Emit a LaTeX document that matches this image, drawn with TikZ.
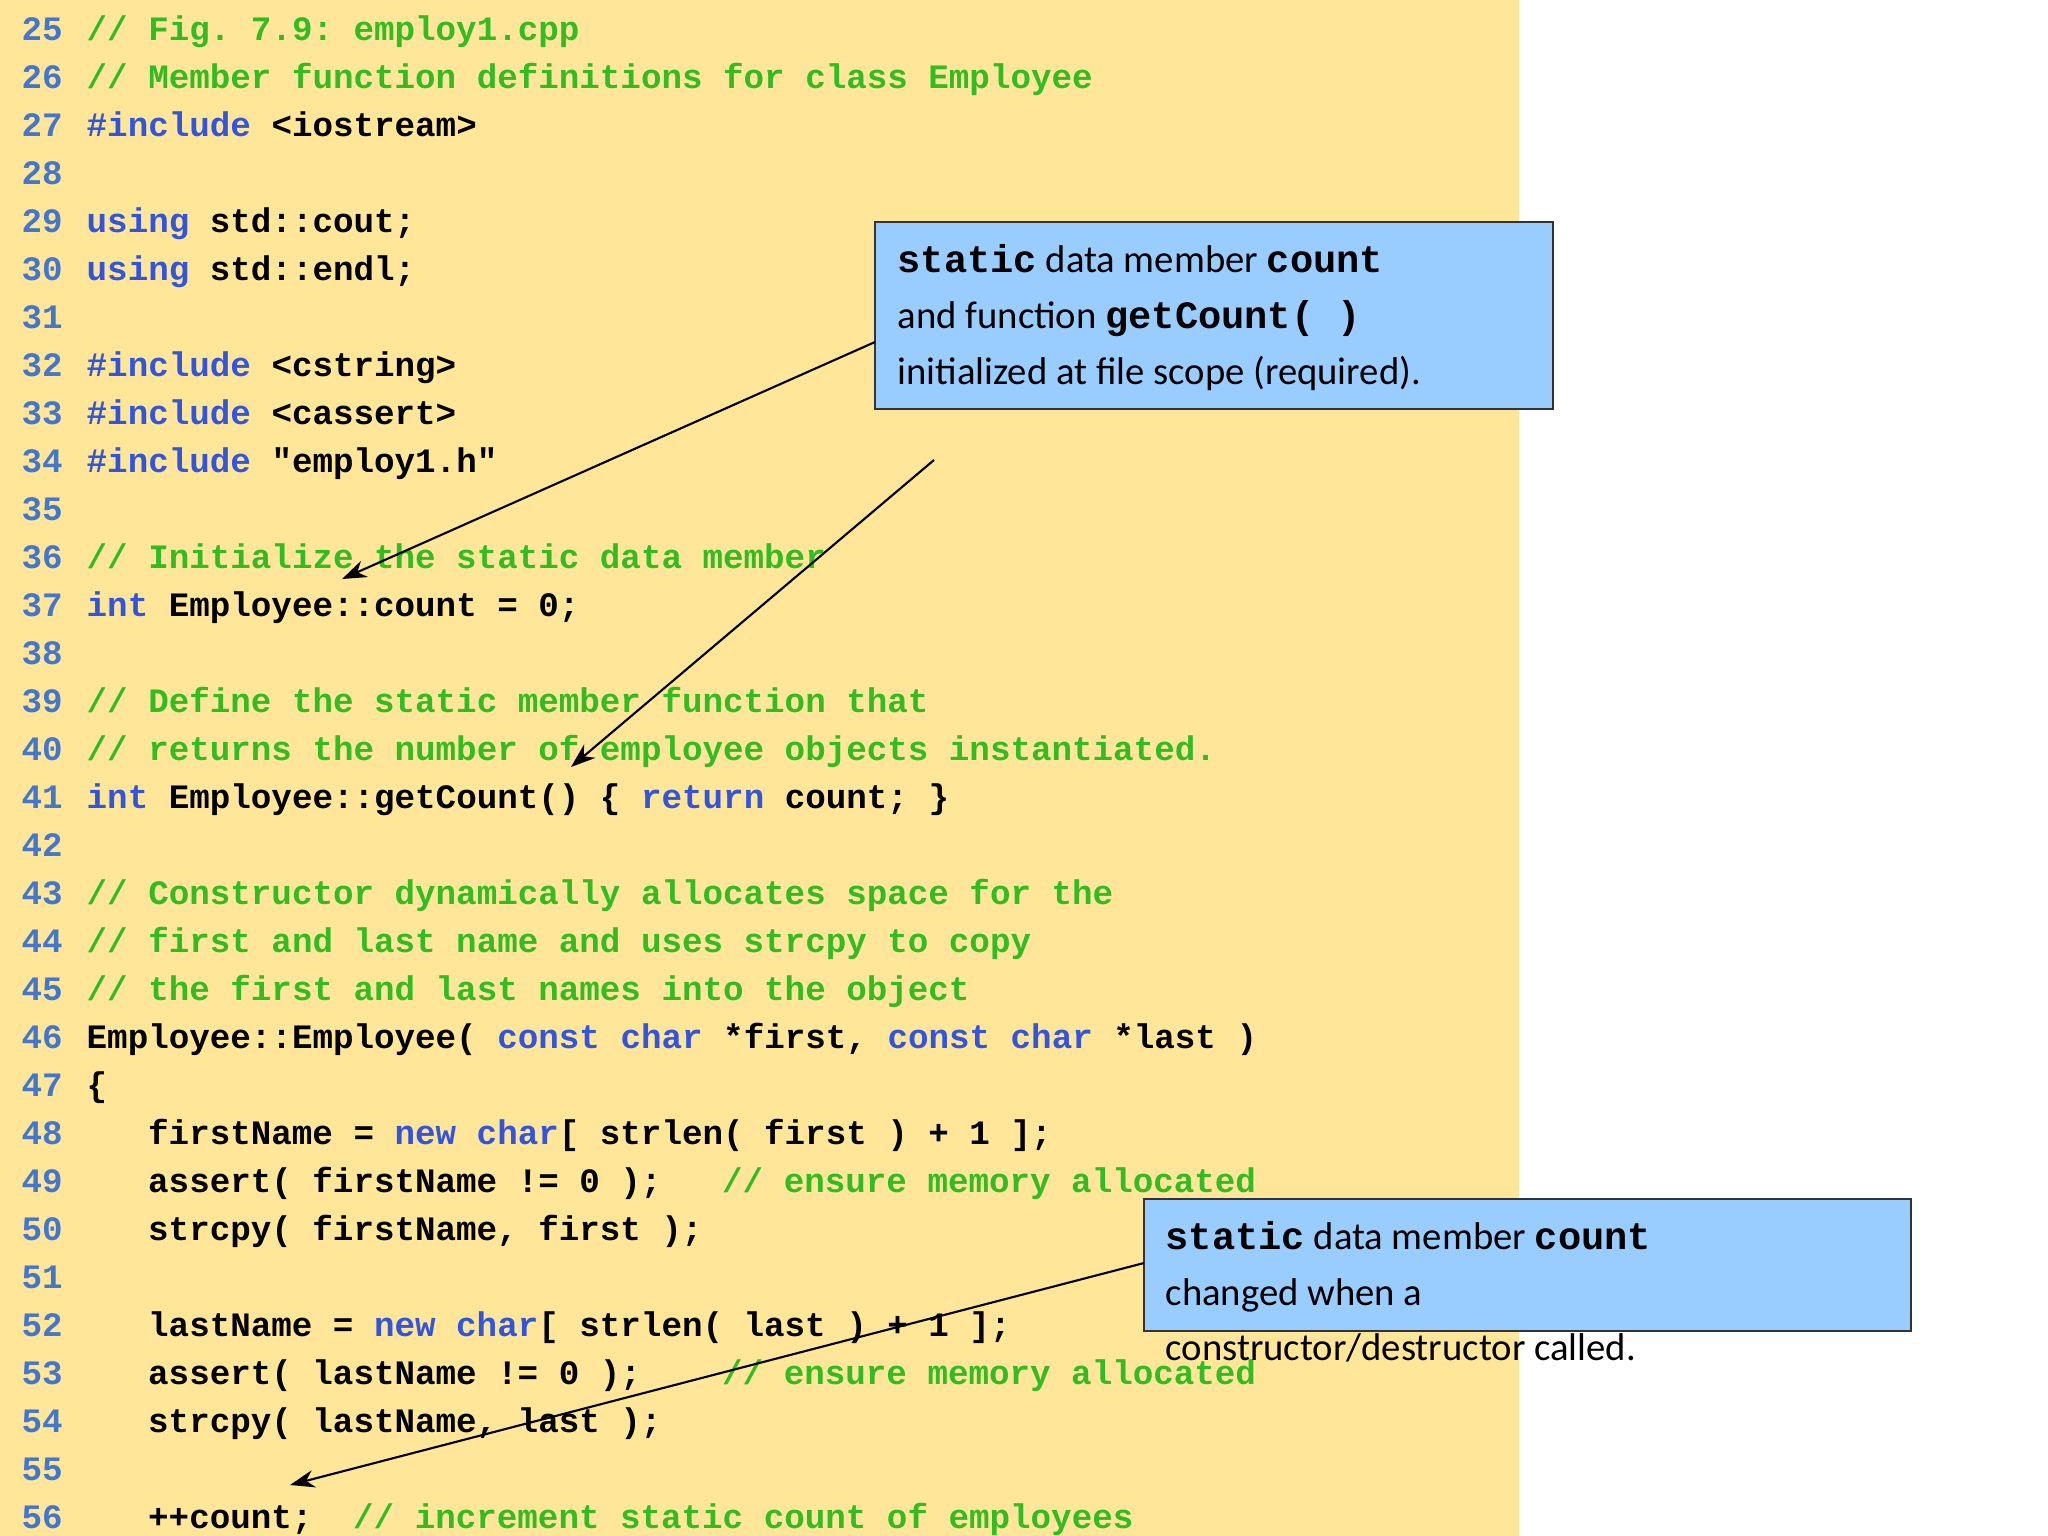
\documentclass[tikz,border=0pt]{standalone}
\usepackage{fontspec}
\setmainfont{Carlito}
\setmonofont{Liberation Mono}
\usetikzlibrary{arrows.meta}
\definecolor{bgy}{HTML}{FFE699}
\definecolor{kwc}{HTML}{3355DD}
\definecolor{cmc}{HTML}{33BB22}
\definecolor{lnc}{HTML}{4477CC}
\definecolor{boxc}{HTML}{99CCFF}
\newcommand{\kw}[1]{\textcolor{kwc}{#1}}
\newcommand{\cm}[1]{\textcolor{cmc}{#1}}
\newcommand{\mybf}[1]{\textbf{\ttfamily #1}}
\tikzset{
 code/.style={anchor=base west,inner sep=0pt,font=\ttfamily\bfseries\fontsize{9.73pt}{11pt}\selectfont},
 lnum/.style={code,text=lnc},
 callout/.style={anchor=base west,inner sep=0pt,font=\fontsize{11pt}{13pt}\selectfont},
 box/.style={draw=black!80,fill=boxc,line width=0.6pt},
 arr/.style={-{Stealth[length=7pt,width=5pt]},line width=0.6pt}
}
\newcommand{\cl}[3]{\node[lnum] (n#1) at (21,{40+48*(#1-25)}) {#1};
 \node[code] (c#1) at ({86+20.5*#2},{40+48*(#1-25)}) {#3};}
\begin{document}
\begin{tikzpicture}[x=0.01cm,y=-0.01cm]
\useasboundingbox (0,0) rectangle (2048,1536);
\fill[bgy] (0,0) rectangle (1519,1536);
\cl{25}{0}{\cm{// Fig. 7.9: employ1.cpp}}
\cl{26}{0}{\cm{// Member function definitions for class Employee}}
\cl{27}{0}{\kw{\#include} <iostream>}
\cl{28}{0}{}
\cl{29}{0}{\kw{using} std::cout;}
\cl{30}{0}{\kw{using} std::endl;}
\cl{31}{0}{}
\cl{32}{0}{\kw{\#include} <cstring>}
\cl{33}{0}{\kw{\#include} <cassert>}
\cl{34}{0}{\kw{\#include} "employ1.h"}
\cl{35}{0}{}
\cl{36}{0}{\cm{// Initialize the static data member}}
\cl{37}{0}{\kw{int} Employee::count = 0;}
\cl{38}{0}{}
\cl{39}{0}{\cm{// Define the static member function that}}
\cl{40}{0}{\cm{// returns the number of employee objects instantiated.}}
\cl{41}{0}{\kw{int} Employee::getCount() \{ \kw{return} count; \}}
\cl{42}{0}{}
\cl{43}{0}{\cm{// Constructor dynamically allocates space for the}}
\cl{44}{0}{\cm{// first and last name and uses strcpy to copy}}
\cl{45}{0}{\cm{// the first and last names into the object}}
\cl{46}{0}{Employee::Employee( \kw{const} \kw{char} *first, \kw{const} \kw{char} *last )}
\cl{47}{0}{\{}
\cl{48}{3}{firstName = \kw{new} \kw{char}[ strlen( first ) + 1 ];}
\cl{49}{3}{assert( firstName != 0 );}
\node[code] (k49) at ({86+20.5*31},{40+48*24}) {\cm{// ensure memory allocated}};
\cl{50}{3}{strcpy( firstName, first );}
\cl{51}{0}{}
\cl{52}{3}{lastName = \kw{new} \kw{char}[ strlen( last ) + 1 ];}
\cl{53}{3}{assert( lastName != 0 );}
\node[code] (k53) at ({86+20.5*31},{40+48*28}) {\cm{// ensure memory allocated}};
\cl{54}{3}{strcpy( lastName, last );}
\cl{55}{0}{}
\cl{56}{3}{++count;}
\node[code] (k56) at ({86+20.5*13},{40+48*31}) {\cm{// increment static count of employees}};
% callout 1
\draw[box] (875,222) rectangle (1553,409);
\coordinate (b1a) at (875,342);
\coordinate (b1b) at (934,460);
\node[callout] (t11) at (897,272) {\mybf{static} data member \mybf{count}};
\node[callout] (t12) at (897,328) {and function \mybf{getCount(~)}};
\node[callout] (t13) at (897,384) {initialized at file scope (required).};
% callout 2
\draw[box] (1144,1199) rectangle (1911,1331);
\coordinate (b2a) at (1144,1263);
\node[callout] (t21) at (1165,1249) {\mybf{static} data member \mybf{count}};
\node[callout] (t22) at (1165,1305) {changed when a};
\node[callout] (t23) at (1165,1360) {constructor/destructor called.};
% arrows
\coordinate (e1) at (342,579);
\coordinate (e2) at (571,767);
\coordinate (e3) at (290,1485);
\draw[arr] (b1a) -- (e1);
\draw[arr] (b1b) -- (e2);
\draw[arr] (b2a) -- (e3);
\end{tikzpicture}
\end{document}
